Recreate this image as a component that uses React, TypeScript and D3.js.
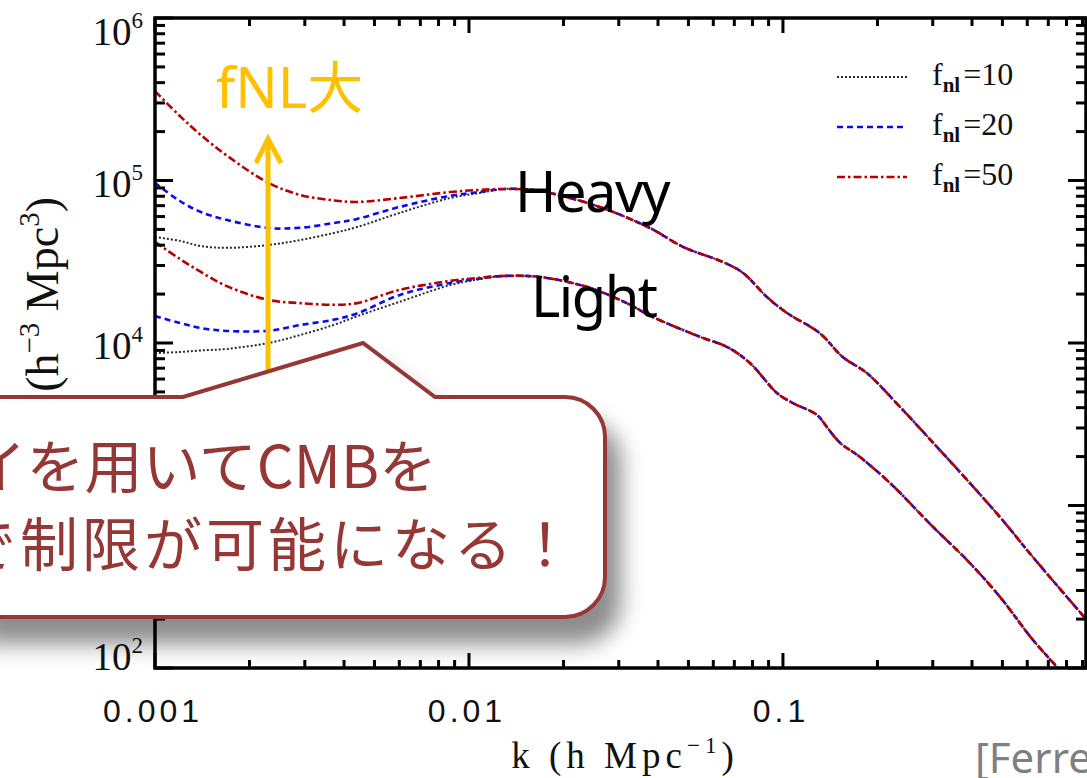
import React from 'react';
import * as d3 from 'd3';

const W = 1087;
const H = 778;

// ---------- data ----------
const fnlValues = ['10', '20', '50'];
const kLow = [0.001, 0.0012, 0.0014, 0.0017, 0.0023, 0.0029, 0.0037, 0.0044, 0.006, 0.0087, 0.0108];
const heavyLowFnl10 = [44900, 42500, 39500, 38500, 40100, 43000, 47500, 51700, 63100, 78000, 83800];
const heavyLowFnl20 = [96600, 74800, 64000, 57100, 51000, 51200, 54700, 58000, 68700, 80400, 84900];
const heavyLowFnl50 = [355000, 249500, 190500, 141600, 96600, 81500, 75500, 73800, 78000, 84900, 87500];
const lightLowFnl10 = [8670, 8800, 9000, 9200, 10000, 11200, 12900, 14600, 17900, 22700, 24700];
const lightLowFnl20 = [14650, 13280, 12360, 11860, 11900, 12900, 13900, 15200, 19700, 23400, 24900];
const lightLowFnl50 = [41900, 32900, 27350, 22300, 18400, 17600, 17200, 17600, 21200, 24100, 25200];

const kHeavyHigh = [0.013, 0.016, 0.0181, 0.0261, 0.0377, 0.0481, 0.0644, 0.0746, 0.0889, 0.103, 0.131, 0.155, 0.185, 0.236, 0.301, 0.386, 0.491, 0.625, 0.802, 0.923];
const pHeavyHigh = [88700, 87500, 83800, 68700, 51000, 39000, 31500, 27000, 19200, 15300, 11500, 8200, 6530, 4040, 2430, 1435, 849, 482, 274, 200];
const kLightHigh = [0.0126, 0.0168, 0.0238, 0.0318, 0.0385, 0.0545, 0.0664, 0.0785, 0.0957, 0.1076, 0.1283, 0.138, 0.152, 0.1758, 0.2193, 0.3006, 0.3855, 0.4911, 0.6252, 0.7516];
const pLightHigh = [25800, 25500, 22100, 17600, 14450, 10900, 9440, 7530, 4920, 4270, 3610, 3040, 2430, 1990, 1375, 738, 462, 274, 149, 100];

const xTickValues = [0.001, 0.01, 0.1];
const xTickLabels = ['0.001', '0.01', '0.1'];
const yTickExponents = [2, 3, 4, 5, 6];
const xDomain = [0.001, 0.923];
const yDomain = [100, 1e6];

const groupLabels = ['Heavy', 'Light'];
const arrowLabel = 'fNL大';
const calloutLines = ['イを用いてCMBを', 'で制限が可能になる！'];
const citation = '[Ferreira et al.]';

// ---------- styles ----------
const seriesStyle = [
  { color: '#2a2a2a', dash: '2 2', width: 2 },
  { color: '#0a0aee', dash: '6 4', width: 2.6 },
  { color: '#b80000', dash: '8 3 2.5 3', width: 2.6 },
];
const calloutColor = '#953735';
const orange = '#FFC000';

const L = 155, R = 1086, T = 18, B = 668;

export default function App() {
  const x = d3.scaleLog().domain(xDomain).range([L, R]);
  const y = d3.scaleLog().domain(yDomain).range([B, T]);

  const line = d3
    .line<[number, number]>()
    .x((d) => x(d[0]))
    .y((d) => y(d[1]))
    .curve(d3.curveCatmullRom.alpha(0.5));

  const mk = (ks: number[], ps: number[]) => ks.map((k, i) => [k, ps[i]] as [number, number]);
  const heavyHigh = mk(kHeavyHigh, pHeavyHigh);
  const lightHigh = mk(kLightHigh, pLightHigh);
  const heavyLow = [heavyLowFnl10, heavyLowFnl20, heavyLowFnl50];
  const lightLow = [lightLowFnl10, lightLowFnl20, lightLowFnl50];

  const curves: { d: string; s: number }[] = [];
  [heavyLow, lightLow].forEach((grp, gi) => {
    grp.forEach((arr, si) => {
      const pts = mk(kLow, arr).concat(gi === 0 ? heavyHigh : lightHigh);
      curves.push({ d: line(pts) || '', s: si });
    });
  });
  curves.sort((a, b) => a.s - b.s);

  const xTicks = d3
    .range(-3, 0)
    .flatMap((e) => d3.range(1, 10).map((m) => ({ v: m * Math.pow(10, e), major: m === 1 })))
    .filter((t) => t.v <= xDomain[1] * 1.0001);
  const yTicks = d3
    .range(2, 7)
    .flatMap((e) => d3.range(1, 10).map((m) => ({ v: m * Math.pow(10, e), major: m === 1 })))
    .filter((t) => t.v <= yDomain[1] * 1.0001);

  const tickW = 3;
  const serif = "'Liberation Serif', 'Times New Roman', serif";
  const sans = "'Noto Sans', 'Noto Sans CJK JP', sans-serif";
  const cjk = "'Noto Sans CJK JP', 'Noto Sans', sans-serif";

  return (
    <svg
      width={W}
      height={H}
      style={{ position: 'absolute', left: 0, top: 0, background: '#fff' }}
      xmlns="http://www.w3.org/2000/svg"
    >
      <defs>
        <clipPath id="plotClip">
          <rect x={L} y={T} width={R - L} height={B - T} />
        </clipPath>
        <filter id="shadow" x="-20%" y="-30%" width="150%" height="190%">
          <feDropShadow dx="14" dy="25" stdDeviation="11" floodColor="#000" floodOpacity="0.45" />
        </filter>
      </defs>
      <rect x={0} y={0} width={W} height={H} fill="#fff" />

      {/* curves */}
      <g clipPath="url(#plotClip)" fill="none">
        {curves.map((c, i) => (
          <path
            key={i}
            d={c.d}
            stroke={seriesStyle[c.s].color}
            strokeWidth={seriesStyle[c.s].width}
            strokeDasharray={seriesStyle[c.s].dash}
          />
        ))}
      </g>

      {/* frame */}
      <rect x={L} y={T} width={R - L} height={B - T} fill="none" stroke="#000" strokeWidth={3.5} />

      {/* x ticks bottom & top */}
      {xTicks.map((t, i) => (
        <g key={'xt' + i} stroke="#000" strokeWidth={tickW}>
          <line x1={x(t.v)} x2={x(t.v)} y1={B} y2={B - (t.major ? 15 : 8)} />
          <line x1={x(t.v)} x2={x(t.v)} y1={T} y2={T + (t.major ? 15 : 8)} />
        </g>
      ))}
      {/* y ticks left & right */}
      {yTicks.map((t, i) => (
        <g key={'yt' + i} stroke="#000" strokeWidth={tickW}>
          <line x1={L} x2={L + (t.major ? 18 : 10)} y1={y(t.v)} y2={y(t.v)} />
          <line x1={R} x2={R - (t.major ? 18 : 10)} y1={y(t.v)} y2={y(t.v)} />
        </g>
      ))}

      {/* x tick labels */}
      {xTickValues.map((v, i) => (
        <text
          key={'xl' + i}
          x={x(v) - 2}
          y={722}
          textAnchor="middle"
          fontFamily="'Liberation Sans', Arial, sans-serif"
          fontSize={32}
          letterSpacing={4}
          fill="#111"
        >
          {xTickLabels[i]}
        </text>
      ))}

      {/* y tick labels */}
      {yTickExponents.map((e) => {
        const base = Math.min(Math.max(y(Math.pow(10, e)) + 16, 45), 670);
        return (
          <text key={'yl' + e} x={143} y={base} textAnchor="end" fontFamily={serif} fontSize={39} fill="#111">
            10
            <tspan fontSize={23} dy={-17}>
              {e}
            </tspan>
          </text>
        );
      })}

      {/* axis titles */}
      <text x={625} y={768} textAnchor="middle" fontFamily={serif} fontSize={37} letterSpacing={5} fill="#111">
        k (h Mpc
        <tspan fontSize={23} dy={-15}>
          −1
        </tspan>
        <tspan dy={15}>)</tspan>
      </text>
      <text
        transform="translate(58,197) rotate(-90)"
        textAnchor="end"
        fontFamily={serif}
        fontSize={46}
        fill="#111"
      >
        P(k) (h
        <tspan fontSize={29} dy={-19}>
          −3
        </tspan>
        <tspan dy={19}> Mpc</tspan>
        <tspan fontSize={29} dy={-19}>
          3
        </tspan>
        <tspan dy={19}>)</tspan>
      </text>

      {/* legend */}
      {fnlValues.map((f, i) => {
        const ly = 77 + i * 50;
        return (
          <g key={'lg' + i}>
            <line
              x1={837}
              x2={907}
              y1={ly}
              y2={ly}
              stroke={seriesStyle[i].color}
              strokeWidth={seriesStyle[i].width}
              strokeDasharray={seriesStyle[i].dash}
            />
            <text x={932} y={ly + 8} fontFamily={serif} fontSize={32} fill="#111">
              f
              <tspan fontSize={21} fontWeight="bold" dy={7}>
                nl
              </tspan>
              <tspan dy={-7} dx={3}>
                ={f}
              </tspan>
            </text>
          </g>
        );
      })}

      {/* Heavy / Light labels */}
      <text x={515} y={212} fontFamily={sans} fontSize={56} letterSpacing={-1.5} fill="#000">
        {groupLabels[0]}
      </text>
      <text x={531} y={317} fontFamily={sans} fontSize={56} letterSpacing={-1.5} fill="#000">
        {groupLabels[1]}
      </text>

      {/* orange arrow */}
      <text x={216} y={108} fontFamily={sans} fontSize={56} fill={orange}>
        {arrowLabel}
      </text>
      <line x1={268} x2={268} y1={380} y2={141} stroke={orange} strokeWidth={5} />
      <polyline points="256,163 268,139 281,163" fill="none" stroke={orange} strokeWidth={5} />

      {/* callout */}
      <path
        d="M -30 397 L 183 397 L 363 343 L 435 397 L 565 397 A 40 40 0 0 1 605 437 L 605 577 A 40 40 0 0 1 565 617 L -30 617 Z"
        fill="#fff"
        stroke={calloutColor}
        strokeWidth={4}
        filter="url(#shadow)"
      />
      <text x={437} y={488} textAnchor="end" fontFamily={cjk} fontSize={58} fill={calloutColor}>
        {calloutLines[0]}
      </text>
      <text x={578} y={566} textAnchor="end" fontFamily={cjk} fontSize={58} letterSpacing={4} fill={calloutColor}>
        {calloutLines[1]}
      </text>

      {/* citation */}
      <text x={975} y={773} fontFamily={sans} fontSize={42} fill="#7f7f7f">
        {citation}
      </text>
    </svg>
  );
}
